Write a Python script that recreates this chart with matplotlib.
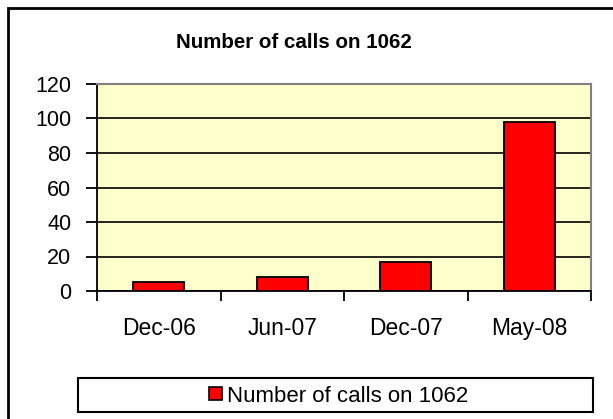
import numpy as np
import matplotlib.pyplot as plt
from matplotlib.patches import Rectangle

plt.rcParams['font.family'] = ['Liberation Sans', 'DejaVu Sans']

# Datos del grafico
categorias = ['Dec-06', 'Jun-07', 'Dec-07', 'May-08']
llamadas = [5, 8, 17, 98]
serie = 'Number of calls on 1062'
titulo = 'Number of calls on 1062'

W, H = 613, 419
fig = plt.figure(figsize=(W / 100, H / 100), dpi=100)

# marco exterior (solo se ven borde izquierdo y superior)
fig.patches.append(Rectangle((8 / W, -0.5), 2, 1.5 - 8 / H, transform=fig.transFigure,
                             fill=False, edgecolor='black', linewidth=2))

ax = fig.add_axes([97 / W, (H - 291) / H, 494 / W, 207 / H])
ax.set_facecolor('#FFFFCC')

x = np.arange(len(categorias))
ax.bar(x, llamadas, width=0.41, color='#FF0000', edgecolor='black', linewidth=1.3, zorder=3)

ax.set_xlim(-0.5, len(categorias) - 0.5)
ax.set_ylim(0, 120)
ax.set_yticks(np.arange(0, 121, 20))
ax.yaxis.grid(True, color='black', linewidth=1.2, zorder=1)
ax.set_axisbelow(True)

# marcas en los limites de las categorias, etiquetas en el centro
ax.set_xticks(np.arange(-0.5, len(categorias), 1))
ax.set_xticklabels([])
ax.set_xticks(x, minor=True)
ax.set_xticklabels(categorias, minor=True)
ax.tick_params(axis='x', which='minor', length=0, pad=19, labelsize=16.5)
ax.tick_params(axis='x', which='major', length=7, width=1.3, direction='out')
ax.tick_params(axis='y', length=8, width=1.3, direction='out', labelsize=15.5, pad=10.5)

for s in ['left', 'bottom']:
    ax.spines[s].set_color('black')
    ax.spines[s].set_linewidth(1.3)
for s in ['top', 'right']:
    ax.spines[s].set_color('#808080')
    ax.spines[s].set_linewidth(1.5)

fig.text(294 / W, 1 - 42 / H, titulo, ha='center', va='center', fontsize=14.75, fontweight='bold')

# caja de la leyenda
fig.patches.append(Rectangle((78 / W, (H - 412) / H), 515 / W, 34 / H, transform=fig.transFigure,
                             facecolor='white', edgecolor='black', linewidth=1.5))
handle = Rectangle((0, 0), 1, 1, facecolor='#FF0000', edgecolor='black', linewidth=1.2)
fig.legend([handle], [serie], loc='center', bbox_to_anchor=(339 / W, 1 - 396 / H),
           frameon=False, fontsize=16, handlelength=0.55, handleheight=0.55,
           handletextpad=0.25, borderpad=0)

fig.savefig('out.png', dpi=100)
